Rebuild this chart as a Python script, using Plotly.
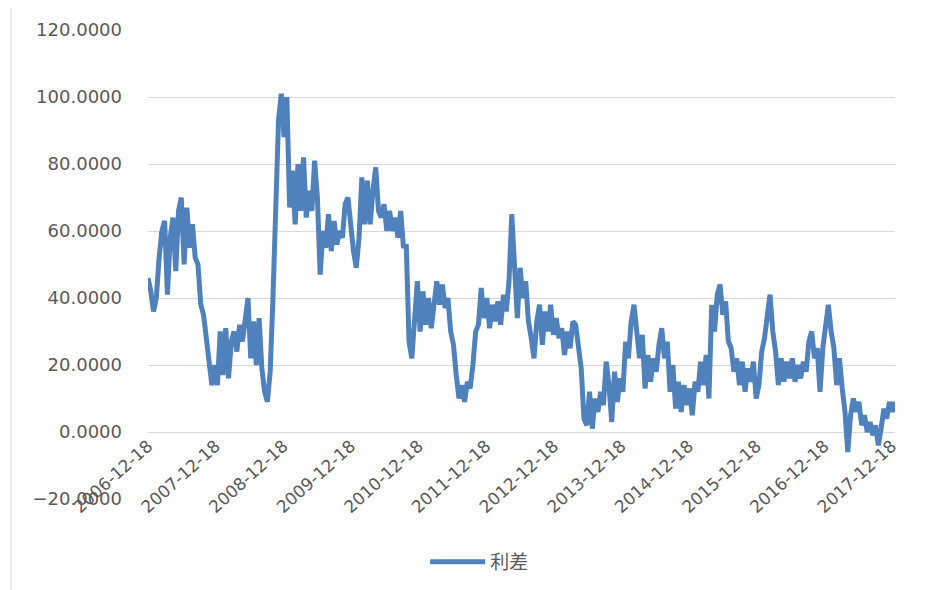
import pandas as pd
import plotly.graph_objects as go

series_name = "利差"
start_date = "2006-12-18"
step_days = 15
spread_values = [
    46, 42, 36, 40, 52, 60, 63, 41, 58, 64, 48, 66, 70, 50, 67, 55, 62, 52, 50, 38,
    35, 28, 22, 14, 20, 14, 30, 17, 31, 16, 27, 30, 24, 32, 27, 33, 40, 22, 33, 20,
    34, 19, 12, 9, 18, 40, 62, 93, 101, 88, 100, 67, 78, 62, 80, 66, 82, 64, 72, 66,
    81, 70, 47, 60, 55, 65, 54, 63, 56, 60, 58, 68, 70, 60, 54, 49, 58, 76, 62, 75,
    62, 72, 79, 66, 64, 68, 60, 66, 60, 64, 58, 66, 55, 56, 27, 22, 33, 45, 30, 42,
    32, 40, 31, 38, 45, 38, 44, 37, 40, 30, 26, 17, 10, 14, 9, 15, 13, 20, 30, 32,
    43, 34, 40, 31, 38, 33, 39, 32, 41, 36, 45, 65, 48, 34, 49, 40, 45, 33, 28, 22,
    33, 38, 26, 36, 30, 38, 29, 34, 28, 31, 23, 30, 25, 33, 32, 24, 19, 4, 2, 12,
    1, 10, 6, 12, 8, 21, 14, 3, 18, 9, 16, 12, 27, 22, 33, 38, 30, 22, 29, 13,
    23, 15, 22, 18, 26, 31, 22, 27, 12, 20, 7, 15, 6, 14, 8, 13, 5, 15, 12, 21,
    14, 23, 10, 38, 30, 41, 44, 35, 39, 27, 25, 18, 22, 14, 21, 12, 19, 15, 21, 10,
    14, 24, 28, 36, 41, 30, 24, 14, 22, 15, 21, 16, 22, 15, 20, 16, 21, 18, 27, 30,
    22, 25, 12, 25, 33, 38, 30, 25, 14, 22, 13, 6, -6, 5, 10, 6, 9, 2, 5, 0,
    3, -1, 2, -4, 1, 7, 4, 9, 6, 9,
]
tick_dates = ["2006-12-18", "2007-12-18", "2008-12-18", "2009-12-18", "2010-12-18",
              "2011-12-18", "2012-12-18", "2013-12-18", "2014-12-18", "2015-12-18",
              "2016-12-18", "2017-12-18"]
y_ticks = [-20, 0, 20, 40, 60, 80, 100, 120]

dates = pd.date_range(start_date, periods=len(spread_values), freq=f"{step_days}D")

fig = go.Figure()
fig.add_trace(go.Scatter(
    x=dates, y=spread_values, mode="lines", name=series_name,
    line=dict(color="#4F81BD", width=5),
))

label_color = "#595959"
fig.update_layout(
    width=946, height=590,
    margin=dict(l=140, r=59, t=22, b=99, autoexpand=False),
    paper_bgcolor="white", plot_bgcolor="white",
    showlegend=True,
    legend=dict(orientation="h", x=0.444, xanchor="center", y=-0.134, yanchor="middle",
                font=dict(family="Noto Sans CJK SC", size=19, color=label_color),
                itemwidth=55),
    xaxis=dict(
        type="date", range=[dates[0], dates[-1]], automargin=False,
        tickvals=tick_dates, ticktext=tick_dates, tickangle=-42,
        showgrid=False, zeroline=False, showline=False, ticks="",
        anchor="free", position=20 / 140,
        tickfont=dict(family="DejaVu Sans", size=17, color=label_color),
    ),
    yaxis=dict(
        range=[-20, 120], tickvals=y_ticks, tickformat=".4f", automargin=False,
        showgrid=True, gridcolor="#D9D9D9", gridwidth=1,
        zeroline=False, showline=False, ticks="",
        ticklabelstandoff=25,
        tickfont=dict(family="DejaVu Sans", size=18, color=label_color),
    ),
)
for xp in (-0.1834, 1.0643):
    fig.add_shape(type="line", xref="paper", yref="paper", x0=xp, x1=xp, y0=-0.22, y1=1.07,
                  line=dict(color="#D9D9D9", width=1))

fig.write_html("out.html")
